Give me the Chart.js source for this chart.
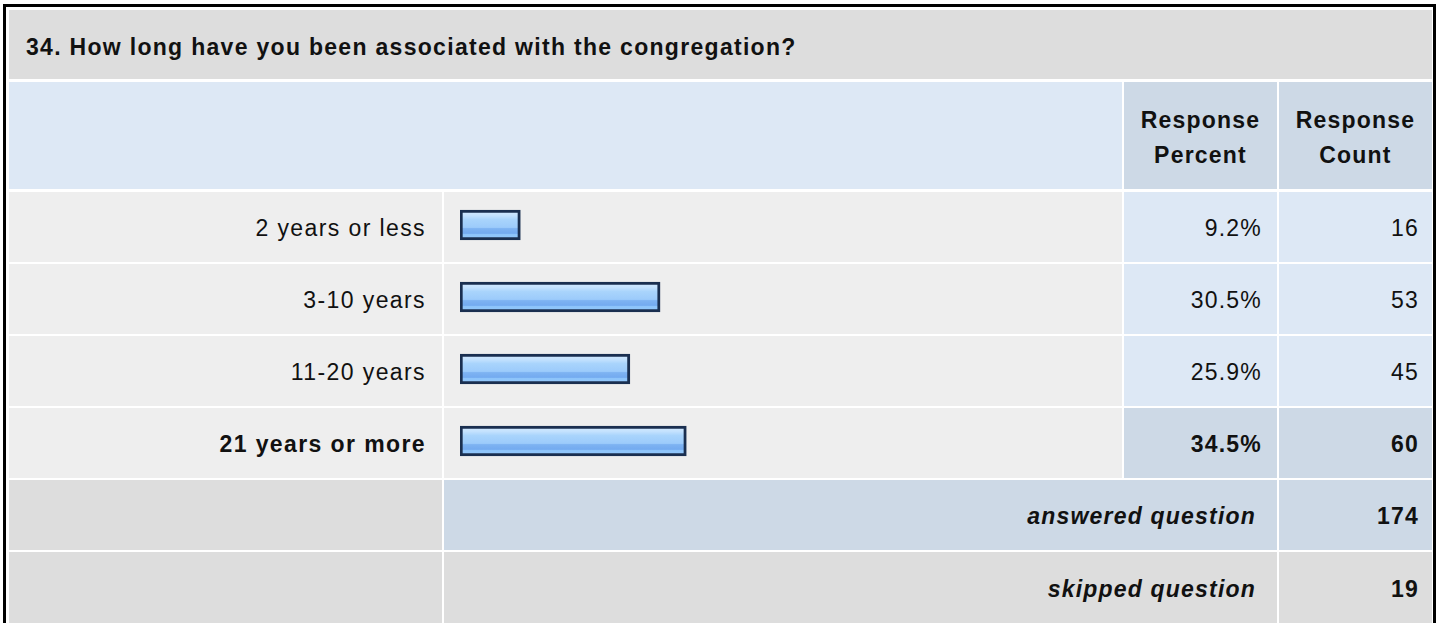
<!DOCTYPE html>
<html>
<head>
<meta charset="utf-8">
<script src="https://cdn.jsdelivr.net/npm/chart.js@4/dist/chart.umd.min.js"></script>
<style>
  html, body { margin: 0; padding: 0; background: #fff; width: 1440px; height: 623px; overflow: hidden; }
  body { position: relative; font-family: "Liberation Sans", Arial, sans-serif; font-size: 23px; letter-spacing: 1.2px; color: #111; }
  .frame { position: absolute; left: 3px; top: 4px; width: 1433px; height: 700px; border: 3px solid #000; box-sizing: border-box; }
  .cell { position: absolute; display: flex; align-items: center; box-sizing: border-box; white-space: nowrap; }
  .r { justify-content: flex-end; }
  .c { justify-content: center; text-align: center; }
  .b { font-weight: bold; }
  .bi { font-weight: bold; font-style: italic; }
  #chartBox { position: absolute; left: 444px; top: 189px; width: 678px; height: 288px; }
</style>
</head>
<body>
<div class="frame"></div>
<div id="table"></div>
<div id="chartBox"><canvas id="barsChart"></canvas></div>
<script>
// datos
const question = '34. How long have you been associated with the congregation?';
const categories = ['2 years or less', '3-10 years', '11-20 years', '21 years or more'];
const percents = [9.2, 30.5, 25.9, 34.5];
const counts = [16, 53, 45, 60];
const answeredCount = 174;
const skippedCount = 19;

const GRAY = '#dddddd', ROW = '#eeeeee', BLUE = '#dde8f5', BLUE2 = '#cdd9e6';
const cols = [[9, 442], [444, 1122], [1124, 1277], [1279, 1432]];
const table = document.getElementById('table');

function cell(x0, x1, y0, y1, bg, text, cls, style) {
  const d = document.createElement('div');
  d.className = 'cell ' + (cls || '');
  d.style.left = x0 + 'px';
  d.style.width = (x1 - x0) + 'px';
  d.style.top = y0 + 'px';
  d.style.height = (y1 - y0) + 'px';
  d.style.background = bg;
  if (style) Object.assign(d.style, style);
  if (text !== undefined) d.innerHTML = text;
  table.appendChild(d);
}

// cabecera
cell(9, 1432, 10, 79, GRAY, question, 'b', { paddingLeft: '17px', paddingTop: '6px', letterSpacing: '1.3px' });
cell(9, 1122, 82, 189, BLUE);
cell(cols[2][0], cols[2][1], 82, 189, BLUE2, 'Response<br>Percent', 'b c', { lineHeight: '35px', paddingTop: '5px' });
cell(cols[3][0], cols[3][1], 82, 189, BLUE2, 'Response<br>Count', 'b c', { lineHeight: '35px', paddingTop: '5px' });

// filas
const top0 = 192;
const maxIdx = percents.indexOf(Math.max(...percents));
categories.forEach((cat, i) => {
  const y0 = top0 + i * 72, y1 = y0 + 70;
  const strong = i === maxIdx;
  cell(cols[0][0], cols[0][1], y0, y1, ROW, cat, 'r' + (strong ? ' b' : ''), { paddingRight: '16px', paddingTop: '2px', letterSpacing: '1.4px' });
  cell(cols[1][0], cols[1][1], y0, y1, ROW);
  cell(cols[2][0], cols[2][1], y0, y1, strong ? BLUE2 : BLUE, percents[i].toFixed(1) + '%', 'r' + (strong ? ' b' : ''), { paddingRight: '15px', paddingTop: '2px' });
  cell(cols[3][0], cols[3][1], y0, y1, strong ? BLUE2 : BLUE, String(counts[i]), 'r' + (strong ? ' b' : ''), { paddingRight: '13px', paddingTop: '2px' });
});

// totales
cell(cols[0][0], cols[0][1], 480, 550, GRAY);
cell(cols[1][0], cols[2][1], 480, 550, BLUE2, 'answered question', 'r bi', { paddingRight: '21px', paddingTop: '2px' });
cell(cols[3][0], cols[3][1], 480, 550, BLUE2, String(answeredCount), 'r b', { paddingRight: '13px', paddingTop: '2px' });
cell(cols[0][0], cols[0][1], 552, 640, GRAY);
cell(cols[1][0], cols[2][1], 552, 640, GRAY, 'skipped question', 'r bi', { paddingRight: '21px', paddingBottom: '14px' });
cell(cols[3][0], cols[3][1], 552, 640, GRAY, String(skippedCount), 'r b', { paddingRight: '13px', paddingBottom: '14px' });

// barras
const BAR_H = 30;
function barFill(c) {
  const ch = c.chart;
  const ys = ch.scales && ch.scales.y;
  if (!ys || !ch.chartArea) return '#9ccbfb';
  const yc = ys.getPixelForValue(c.dataIndex);
  const g = ch.ctx.createLinearGradient(0, yc - BAR_H / 2, 0, yc + BAR_H / 2);
  g.addColorStop(0, '#d6ebff');
  g.addColorStop(0.18, '#c4e2fe');
  g.addColorStop(0.32, '#a9d4fc');
  g.addColorStop(0.58, '#9ccbfb');
  g.addColorStop(0.62, '#7eb3f2');
  g.addColorStop(0.78, '#73aaf0');
  g.addColorStop(0.8, '#8cc3fa');
  g.addColorStop(1, '#96cbfb');
  return g;
}

const ctx = document.getElementById('barsChart').getContext('2d');
new Chart(ctx, {
  type: 'bar',
  data: {
    labels: categories,
    datasets: [{
      data: percents,
      backgroundColor: barFill,
      borderColor: '#1a2f50',
      borderWidth: 3,
      borderSkipped: false,
      barThickness: BAR_H
    }]
  },
  options: {
    indexAxis: 'y',
    responsive: true,
    maintainAspectRatio: false,
    animation: false,
    layout: { padding: { left: 16, right: 6, top: 0, bottom: 0 } },
    plugins: { legend: { display: false }, tooltip: { enabled: false } },
    scales: {
      x: { min: 0, max: 100, display: false },
      y: { display: false }
    }
  }
});
</script>
</body>
</html>
